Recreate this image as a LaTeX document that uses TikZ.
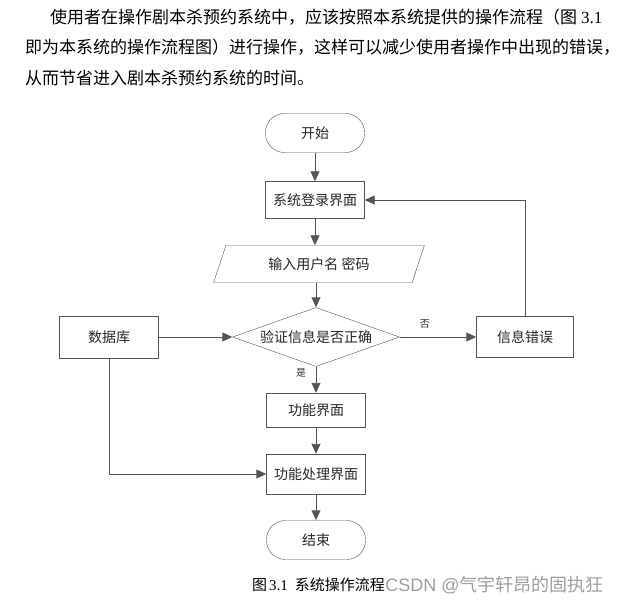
\documentclass[tikz,border=0pt]{standalone}
\usepackage{fontspec}
\usepackage{tikz}
\usetikzlibrary{shapes.geometric}
\usetikzlibrary{arrows.meta}
\newfontfamily\cjk{Noto Sans CJK SC}
\newfontfamily\numfont{Liberation Serif}
\newfontfamily\wmfont{Liberation Sans}
\definecolor{linegrey}{rgb}{0.33,0.33,0.33}
\definecolor{wmgrey}{rgb}{0.62,0.62,0.62}

\begin{document}
\begin{tikzpicture}[x=1pt, y=-1pt,
box/.style ={shape=rectangle, draw=linegrey, fill=white, minimum width=99pt, inner sep=0pt,
  font=\cjk\fontsize{14pt}{16pt}\selectfont, text=black!85},
term/.style ={box, rounded corners=19pt, minimum height=39pt},
para/.style ={shape=trapezium, trapezium left angle=63, trapezium right angle=117,
  trapezium stretches=true, draw=linegrey, fill=white, inner sep=0pt,
  minimum width=211pt, minimum height=37pt,
  font=\cjk\fontsize{14pt}{16pt}\selectfont, text=black!85},
check/.style ={shape=diamond, aspect=2.83, draw=linegrey, fill=white, inner sep=0pt,
  minimum width=167pt, minimum height=59pt,
  font=\cjk\fontsize{14pt}{16pt}\selectfont, text=black!85},
flow/.style ={draw=linegrey, line width=0.9pt, -{Triangle[length=10pt,width=9pt]}},
small/.style ={font=\cjk\fontsize{10pt}{12pt}\selectfont, text=black!80},
body/.style ={anchor=west, inner sep=0pt, font=\cjk\fontsize{17pt}{19pt}\selectfont}]
\useasboundingbox (0,0) rectangle (631,604);

% text above the chart
\node[body] (line1) at (50,17) {使用者在操作剧本杀预约系统中，应该按照本系统提供的操作流程（图 {\numfont 3.1}};
\node[body] (line2) at (25,47) {即为本系统的操作流程图）进行操作，这样可以减少使用者操作中出现的错误，};
\node[body] (line3) at (25,78) {从而节省进入剧本杀预约系统的时间。};

% chart
\node[term] (start) at (315,133) {开始};
\node[box, minimum height=37pt] (login) at (315,200) {系统登录界面};
\node[para] (input) at (319,264) {输入用户名 密码};
\node[check] (verify) at (316,337) {验证信息是否正确};
\node[box, minimum height=42pt] (db) at (109,337) {数据库};
\node[box, minimum height=41pt, minimum width=97pt] (err) at (525,337) {信息错误};
\node[box, minimum height=34pt] (func) at (316,410) {功能界面};
\node[box, minimum height=40pt] (proc) at (316,474) {功能处理界面};
\node[term] (stop) at (316,540) {结束};

\draw[flow] (start) -- (login);
\draw[flow] (login.south) -- (login.south |- input.north);
\draw[flow] (input.south -| verify.north) -- (verify.north);
\draw[flow] (db.east) -- (verify.west);
\draw[flow] (verify.east) -- node[small, above=5pt, pos=0.33] (no) {否} (err.west);
\draw[flow] (err.north) |- (login.east);
\draw[flow] (verify.south) -- node[small, left=6pt, pos=0.25] (yes) {是} (func.north);
\draw[flow] (func) -- (proc);
\draw[flow] (db.south) |- (proc.west);
\draw[flow] (proc) -- (stop);

% caption
\node[anchor=west, inner sep=0pt, font=\cjk\fontsize{15pt}{17pt}\selectfont] (caption) at (252,585)
  {图\hspace{2pt}{\numfont 3.1}\hspace{7pt}系统操作流程};
\node[anchor=west, inner sep=0pt, text=wmgrey, font=\cjk\fontsize{18pt}{20pt}\selectfont] (mark) at (caption.east)
  {{\wmfont CSDN @}气宇轩昂的固执狂};
\end{tikzpicture}
\end{document}
